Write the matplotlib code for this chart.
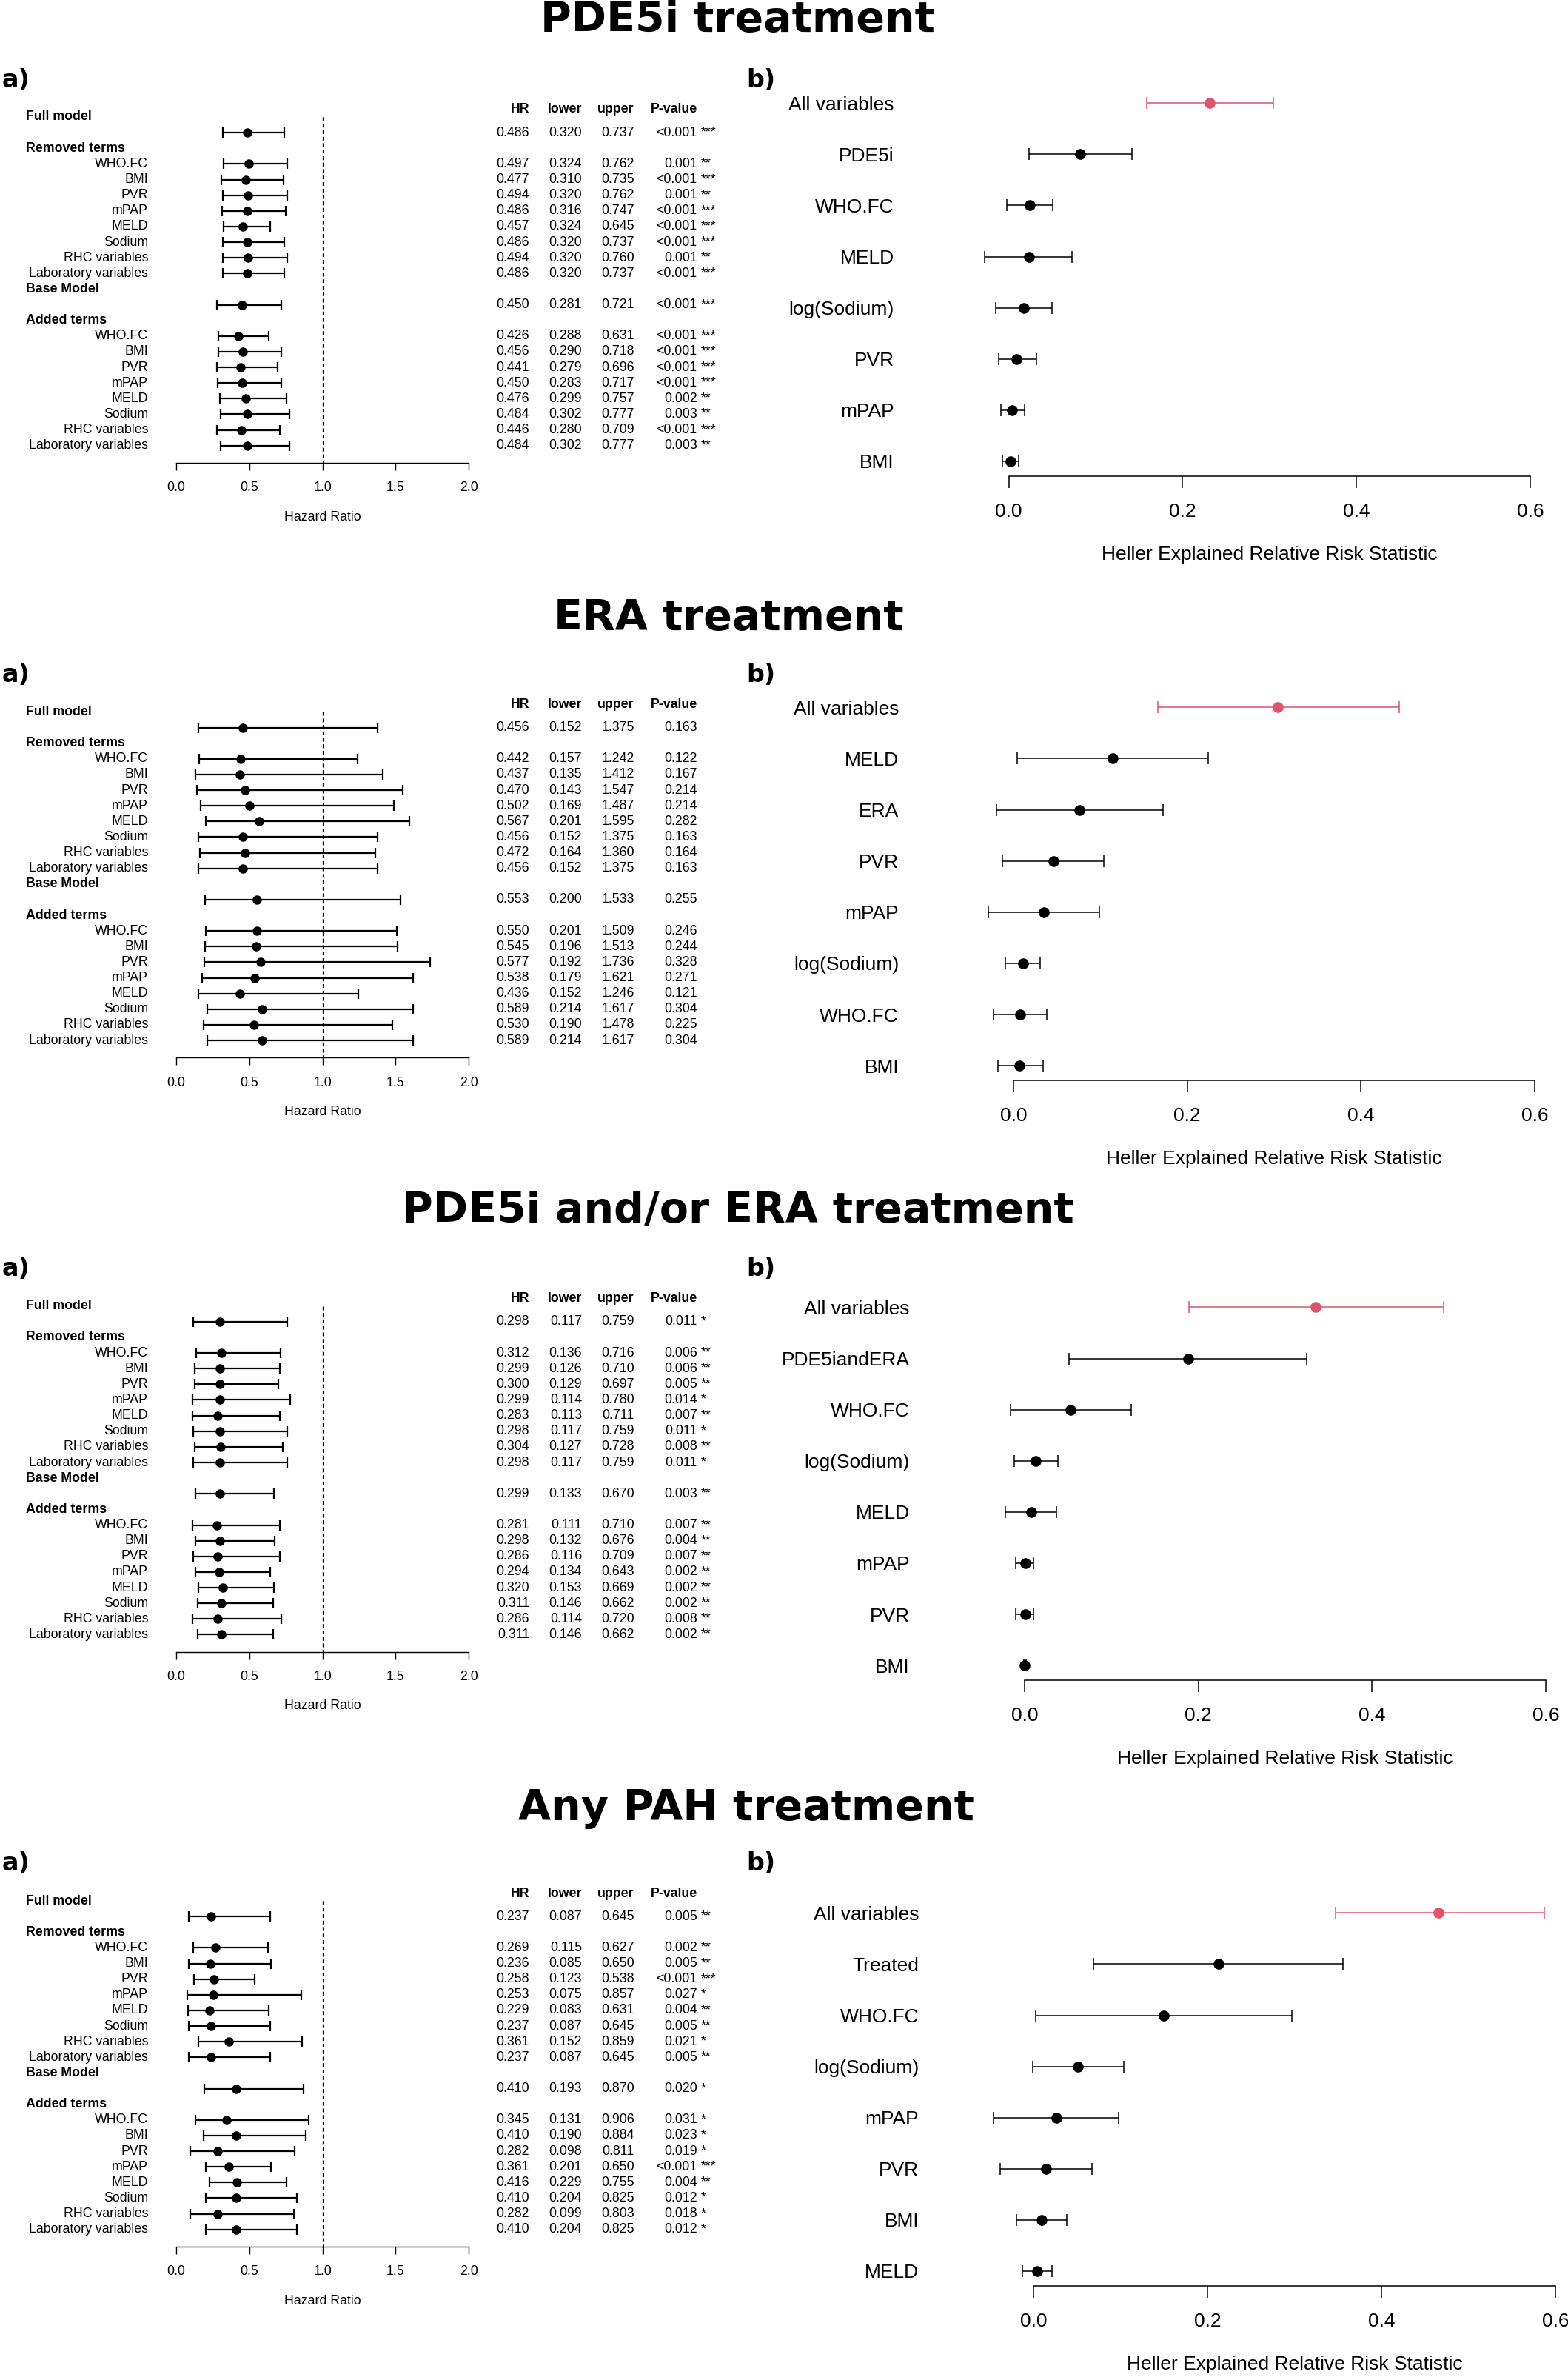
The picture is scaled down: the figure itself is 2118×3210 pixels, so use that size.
import numpy as np
import matplotlib.pyplot as plt

plt.rcParams['font.family'] = ['Liberation Sans', 'DejaVu Sans']

W, H = 2118, 3210

# ---------------- DATA ----------------
TITLES = ["PDE5i treatment", "ERA treatment",
          "PDE5i and/or ERA treatment", "Any PAH treatment"]
SECTIONS = ["Full model", "Removed terms", "Base Model", "Added terms"]
TERMS = ["WHO.FC", "BMI", "PVR", "mPAP", "MELD", "Sodium",
         "RHC variables", "Laboratory variables"]
TABLE_HEAD = ["HR", "lower", "upper", "P-value"]

# order: full model, 8 removed terms, base model, 8 added terms
PDE5I_HR = [0.486, 0.497, 0.477, 0.494, 0.486, 0.457, 0.486, 0.494, 0.486,
            0.450, 0.426, 0.456, 0.441, 0.450, 0.476, 0.484, 0.446, 0.484]
PDE5I_LOWER = [0.320, 0.324, 0.310, 0.320, 0.316, 0.324, 0.320, 0.320, 0.320,
               0.281, 0.288, 0.290, 0.279, 0.283, 0.299, 0.302, 0.280, 0.302]
PDE5I_UPPER = [0.737, 0.762, 0.735, 0.762, 0.747, 0.645, 0.737, 0.760, 0.737,
               0.721, 0.631, 0.718, 0.696, 0.717, 0.757, 0.777, 0.709, 0.777]
PDE5I_P = ["<0.001", "0.001", "<0.001", "0.001", "<0.001", "<0.001", "<0.001", "0.001", "<0.001",
           "<0.001", "<0.001", "<0.001", "<0.001", "<0.001", "0.002", "0.003", "<0.001", "0.003"]
PDE5I_STARS = ["***", "**", "***", "**", "***", "***", "***", "**", "***",
               "***", "***", "***", "***", "***", "**", "**", "***", "**"]

ERA_HR = [0.456, 0.442, 0.437, 0.470, 0.502, 0.567, 0.456, 0.472, 0.456,
          0.553, 0.550, 0.545, 0.577, 0.538, 0.436, 0.589, 0.530, 0.589]
ERA_LOWER = [0.152, 0.157, 0.135, 0.143, 0.169, 0.201, 0.152, 0.164, 0.152,
             0.200, 0.201, 0.196, 0.192, 0.179, 0.152, 0.214, 0.190, 0.214]
ERA_UPPER = [1.375, 1.242, 1.412, 1.547, 1.487, 1.595, 1.375, 1.360, 1.375,
             1.533, 1.509, 1.513, 1.736, 1.621, 1.246, 1.617, 1.478, 1.617]
ERA_P = ["0.163", "0.122", "0.167", "0.214", "0.214", "0.282", "0.163", "0.164", "0.163",
         "0.255", "0.246", "0.244", "0.328", "0.271", "0.121", "0.304", "0.225", "0.304"]
ERA_STARS = [""] * 18

BOTH_HR = [0.298, 0.312, 0.299, 0.300, 0.299, 0.283, 0.298, 0.304, 0.298,
           0.299, 0.281, 0.298, 0.286, 0.294, 0.320, 0.311, 0.286, 0.311]
BOTH_LOWER = [0.117, 0.136, 0.126, 0.129, 0.114, 0.113, 0.117, 0.127, 0.117,
              0.133, 0.111, 0.132, 0.116, 0.134, 0.153, 0.146, 0.114, 0.146]
BOTH_UPPER = [0.759, 0.716, 0.710, 0.697, 0.780, 0.711, 0.759, 0.728, 0.759,
              0.670, 0.710, 0.676, 0.709, 0.643, 0.669, 0.662, 0.720, 0.662]
BOTH_P = ["0.011", "0.006", "0.006", "0.005", "0.014", "0.007", "0.011", "0.008", "0.011",
          "0.003", "0.007", "0.004", "0.007", "0.002", "0.002", "0.002", "0.008", "0.002"]
BOTH_STARS = ["*", "**", "**", "**", "*", "**", "*", "**", "*",
              "**", "**", "**", "**", "**", "**", "**", "**", "**"]

ANY_HR = [0.237, 0.269, 0.236, 0.258, 0.253, 0.229, 0.237, 0.361, 0.237,
          0.410, 0.345, 0.410, 0.282, 0.361, 0.416, 0.410, 0.282, 0.410]
ANY_LOWER = [0.087, 0.115, 0.085, 0.123, 0.075, 0.083, 0.087, 0.152, 0.087,
             0.193, 0.131, 0.190, 0.098, 0.201, 0.229, 0.204, 0.099, 0.204]
ANY_UPPER = [0.645, 0.627, 0.650, 0.538, 0.857, 0.631, 0.645, 0.859, 0.645,
             0.870, 0.906, 0.884, 0.811, 0.650, 0.755, 0.825, 0.803, 0.825]
ANY_P = ["0.005", "0.002", "0.005", "<0.001", "0.027", "0.004", "0.005", "0.021", "0.005",
         "0.020", "0.031", "0.023", "0.019", "<0.001", "0.004", "0.012", "0.018", "0.012"]
ANY_STARS = ["**", "**", "**", "***", "*", "**", "**", "*", "**",
             "*", "*", "*", "*", "***", "**", "*", "*", "*"]

# Heller explained relative risk
PDE5I_VARS = ["All variables", "PDE5i", "WHO.FC", "MELD", "log(Sodium)", "PVR", "mPAP", "BMI"]
PDE5I_HELLER = [0.231, 0.082, 0.024, 0.023, 0.017, 0.009, 0.004, 0.002]
PDE5I_HELLER_LO = [0.159, 0.023, -0.002, -0.028, -0.015, -0.012, -0.009, -0.007]
PDE5I_HELLER_HI = [0.304, 0.142, 0.051, 0.073, 0.050, 0.032, 0.018, 0.011]

ERA_VARS = ["All variables", "MELD", "ERA", "PVR", "mPAP", "log(Sodium)", "WHO.FC", "BMI"]
ERA_HELLER = [0.304, 0.114, 0.076, 0.046, 0.035, 0.011, 0.008, 0.007]
ERA_HELLER_LO = [0.166, 0.004, -0.020, -0.013, -0.029, -0.009, -0.023, -0.018]
ERA_HELLER_HI = [0.444, 0.224, 0.172, 0.104, 0.099, 0.031, 0.038, 0.034]

BOTH_VARS = ["All variables", "PDE5iandERA", "WHO.FC", "log(Sodium)", "MELD", "mPAP", "PVR", "BMI"]
BOTH_HELLER = [0.335, 0.188, 0.053, 0.013, 0.008, 0.001, 0.001, 0.000]
BOTH_HELLER_LO = [0.189, 0.051, -0.016, -0.012, -0.022, -0.010, -0.010, -0.001]
BOTH_HELLER_HI = [0.482, 0.325, 0.123, 0.038, 0.037, 0.010, 0.010, 0.002]

ANY_VARS = ["All variables", "Treated", "WHO.FC", "log(Sodium)", "mPAP", "PVR", "BMI", "MELD"]
ANY_HELLER = [0.466, 0.213, 0.150, 0.051, 0.026, 0.014, 0.009, 0.004]
ANY_HELLER_LO = [0.347, 0.069, 0.002, -0.001, -0.046, -0.039, -0.020, -0.013]
ANY_HELLER_HI = [0.587, 0.356, 0.297, 0.104, 0.098, 0.067, 0.038, 0.021]

FOREST = [(PDE5I_HR, PDE5I_LOWER, PDE5I_UPPER, PDE5I_P, PDE5I_STARS),
          (ERA_HR, ERA_LOWER, ERA_UPPER, ERA_P, ERA_STARS),
          (BOTH_HR, BOTH_LOWER, BOTH_UPPER, BOTH_P, BOTH_STARS),
          (ANY_HR, ANY_LOWER, ANY_UPPER, ANY_P, ANY_STARS)]
HELLER = [(PDE5I_VARS, PDE5I_HELLER, PDE5I_HELLER_LO, PDE5I_HELLER_HI),
          (ERA_VARS, ERA_HELLER, ERA_HELLER_LO, ERA_HELLER_HI),
          (BOTH_VARS, BOTH_HELLER, BOTH_HELLER_LO, BOTH_HELLER_HI),
          (ANY_VARS, ANY_HELLER, ANY_HELLER_LO, ANY_HELLER_HI)]

# ---------------- LAYOUT (pixels) ----------------
A_OFF = [0, 803.4, 1605.7, 2409]
TITLE_X = [996, 984, 997, 1008]
TITLE_Y = [27.5, 835, 1635, 2442.5]
B_ALL_Y = [139.2, 955.4, 1765.4, 2583.3]
B_X0 = [1362.6, 1369, 1384, 1396.3]
B_X6 = [2067.2, 2072.9, 2088, 2100.8]

ROW0, ROW_H = 158.0, 21.13
HR_X0, HR_X2 = 237.8, 633.3
COL_X = [715, 786, 856.7, 941.7]
STAR_X = 947
SMALL = 12.8
BIG = 19
RED = '#DF536B'

fig = plt.figure(figsize=(W / 100, H / 100), dpi=100)


def add_px_axes(x0, y0, x1, y1):
    return fig.add_axes([x0 / W, 1 - y1 / H, (x1 - x0) / W, (y1 - y0) / H])


def ptext(x, y, s, **kw):
    fig.text(x / W, 1 - y / H, s, **kw)


def draw_forest(i):
    hr, lo, up, pv, st = FOREST[i]
    dy = A_OFF[i]
    bottom = 625 + dy
    ax = add_px_axes(HR_X0, ROW0 + dy - ROW_H, HR_X2, bottom)
    ybot = (bottom - ROW0 - dy) / ROW_H
    ax.set_xlim(0, 2)
    ax.set_ylim(ybot, -1)
    rows = np.array([1] + list(range(3, 11)) + [12] + list(range(14, 22)))
    hr = np.array(hr)
    ax.errorbar(hr, rows, xerr=[hr - np.array(lo), np.array(up) - hr], fmt='o',
                color='black', ms=8, lw=1.6, capsize=4.7, capthick=1.6)
    ax.plot([1, 1], [0, ybot], ls=(0, (4, 3)), color='black', lw=0.9)
    for s in ['top', 'left', 'right']:
        ax.spines[s].set_visible(False)
    ax.spines['bottom'].set_bounds(0, 2)
    ax.spines['bottom'].set_linewidth(1.0)
    ax.set_yticks([])
    ticks = [0, 0.5, 1.0, 1.5, 2.0]
    ax.set_xticks(ticks, ["{:.1f}".format(t) for t in ticks])
    ax.tick_params(axis='x', length=7.2, width=1.0, pad=11, labelsize=SMALL)
    # section headers and term labels
    for r, name in zip([0, 2, 11, 13], SECTIONS):
        ptext(35, ROW0 + dy + r * ROW_H, name, fontsize=SMALL, fontweight='bold',
              ha='left', va='center')
    for k, term in enumerate(TERMS):
        for r0 in (3, 14):
            ptext(200, ROW0 + dy + (r0 + k) * ROW_H, term, fontsize=SMALL,
                  ha='right', va='center')
    # table
    for x, head in zip(COL_X, TABLE_HEAD):
        ptext(x, ROW0 + dy - 10, head, fontsize=SMALL, fontweight='bold',
              ha='right', va='center')
    for k, r in enumerate(rows):
        y = ROW0 + dy + r * ROW_H
        vals = ["{:.3f}".format(hr[k]), "{:.3f}".format(lo[k]),
                "{:.3f}".format(up[k]), pv[k]]
        for x, v in zip(COL_X, vals):
            ptext(x, y, v, fontsize=SMALL, ha='right', va='center')
        if st[k]:
            ptext(STAR_X, y, st[k], fontsize=SMALL, ha='left', va='center')
    ptext((HR_X0 + HR_X2) / 2, 698.3 + dy, "Hazard Ratio", fontsize=SMALL,
          ha='center', va='center')
    ptext(3, ROW0 + dy - 50, "a)", fontsize=24, fontweight='bold',
          family='DejaVu Sans', ha='left', va='center')


def draw_heller(i):
    names, est, lo, hi = HELLER[i]
    x0, x6 = B_X0[i], B_X6[i]
    yall = B_ALL_Y[i]
    sc = (x6 - x0) / 0.6
    vmin, vmax = -0.08, 0.62
    axis_y = yall + 503.5
    ax = add_px_axes(x0 + vmin * sc, yall - 40, x0 + vmax * sc, axis_y)
    ax.set_xlim(vmin, vmax)
    ax.set_ylim(503.5 / 69.1, -40 / 69.1)
    est = np.array(est)
    rows = np.arange(len(names))
    err = [est - np.array(lo), np.array(hi) - est]
    for k in rows:
        c = RED if k == 0 else 'black'
        ax.errorbar(est[k], k, xerr=[[err[0][k]], [err[1][k]]], fmt='o', color=c,
                    ms=9.5, lw=1.1, capsize=5.6, capthick=1.1)
    for s in ['top', 'left', 'right']:
        ax.spines[s].set_visible(False)
    ax.spines['bottom'].set_bounds(0, 0.6)
    ax.spines['bottom'].set_linewidth(1.1)
    ticks = [0, 0.2, 0.4, 0.6]
    ax.set_xticks(ticks, ["{:.1f}".format(t) for t in ticks])
    ax.tick_params(axis='x', length=11.5, width=1.1, pad=14.5, labelsize=BIG)
    ax.set_yticks(rows, names)
    ax.tick_params(axis='y', length=0, pad=(155 + vmin * sc) * 0.72, labelsize=BIG)
    ptext((x0 + x6) / 2, axis_y + 106, "Heller Explained Relative Risk Statistic",
          fontsize=BIG, ha='center', va='center')
    ptext(1008, ROW0 + A_OFF[i] - 50, "b)", fontsize=24, fontweight='bold',
          family='DejaVu Sans', ha='left', va='center')


for i in range(4):
    ptext(TITLE_X[i], TITLE_Y[i], TITLES[i], fontsize=41, fontweight='bold',
          family='DejaVu Sans', ha='center', va='center')
    draw_forest(i)
    draw_heller(i)

fig.savefig("out.png", dpi=100, facecolor='white')
